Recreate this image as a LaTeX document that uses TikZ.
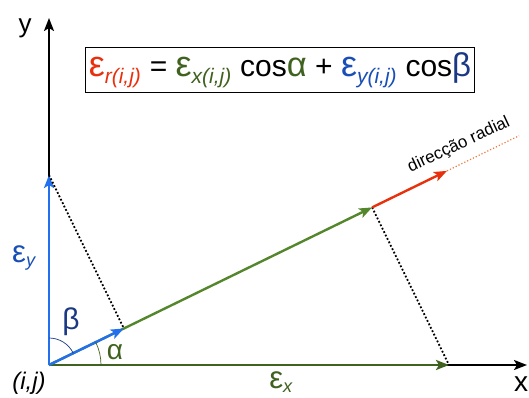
\documentclass[tikz,border=0pt]{standalone}
\usepackage{fontspec}
\setmainfont{Liberation Sans}
\usetikzlibrary{arrows.meta,positioning}

\definecolor{epsred}{RGB}{232,48,12}
\definecolor{epsgreen}{RGB}{64,98,32}
\definecolor{radgreen}{RGB}{84,134,44}
\definecolor{vecblue}{RGB}{34,112,238}
\definecolor{txtblue}{RGB}{24,78,182}
\definecolor{angblue}{RGB}{26,56,132}
\definecolor{dotorange}{RGB}{240,122,62}

\newcommand{\eps}{\scalebox{1.2}{ε}}

\tikzset{
  axis/.style={line width=2.2pt, -{Stealth[length=13pt,width=10pt,inset=3pt]}},
  vec/.style={line width=2.4pt, -{Stealth[length=13pt,width=10pt,inset=3pt]}},
  proj/.style={line width=1.8pt, dotted},
  anglearc/.style={line width=0.7pt},
  lbl/.style={font=\fontsize{26}{30}\selectfont}
}

\begin{document}
\begin{tikzpicture}[x=1pt,y=1pt]
\useasboundingbox (-49,-32) rectangle (480,365);

% Points
\coordinate (O) at (0,0);
\coordinate (X) at (478,0);
\coordinate (Y) at (0,347);
\coordinate (Ex) at (400,0);
\coordinate (Ey) at (0,190);
\coordinate (Pb) at (26:{190*sin(26)});
\coordinate (Pg) at (26:{400*cos(26)});
\coordinate (Pr) at (26:{400*cos(26)+190*sin(26)});
\coordinate (Pe) at (26:523);

% Axes
\draw[axis] (O) -- (X);
\draw[axis] (O) -- (Y);

% Components
\draw[vec, epsgreen] (O) -- (Ex);
\draw[vec, vecblue] (O) -- (Ey);

% Projections
\draw[proj] (Ey) -- (Pb);
\draw[proj] (Pg) -- (Ex);
\draw[vec, radgreen] (O) -- (Pg);
\draw[vec, vecblue] (O) -- (Pb);
\draw[vec, epsred] (Pg) -- (Pr);
\draw[line width=1.2pt, dotted, dotorange] (Pr) -- (Pe);

% Angles
\draw[anglearc, angblue] (0,27) arc (90:26:27);
\draw[anglearc, epsgreen] (52,0) arc (0:26:52);

% Labels
\node[lbl] (ylab) at (-24,337) {y};
\node[lbl, font=\fontsize{28}{30}\selectfont] (xlab) at (472,-19) {x};
\node[lbl, font=\fontsize{24}{28}\selectfont\itshape] (ij) at (-20,-18) {(i,j)};
\node[lbl, epsgreen] (exlab) at (232,-17) {\eps\textsubscript{\itshape x}};
\node[lbl, txtblue] (eylab) at (-25,107) {\eps\textsubscript{\itshape y}};
\node[lbl, angblue, font=\fontsize{30}{32}\selectfont] (beta) at (22,43) {β};
\node[lbl, epsgreen, font=\fontsize{28}{30}\selectfont] (alpha) at (66,13) {α};
\node[rotate=25, font=\fontsize{17}{20}\selectfont] (radial) at (410,220) {direcção radial};

% Formula
\node[draw, line width=0.8pt, inner xsep=3pt, inner ysep=5pt,
      font=\fontsize{30}{34}\selectfont] (eq) at (231,295)
  {\textcolor{epsred}{\eps\textsubscript{\itshape r(i,j)}} =
   \textcolor{epsgreen}{\eps\textsubscript{\itshape x(i,j)}} cos\textcolor{epsgreen}{\scalebox{1.15}{α}} +
   \textcolor{txtblue}{\eps\textsubscript{\itshape y(i,j)}} cos\textcolor{angblue}{\scalebox{1.1}{β}}};
\end{tikzpicture}
\end{document}
